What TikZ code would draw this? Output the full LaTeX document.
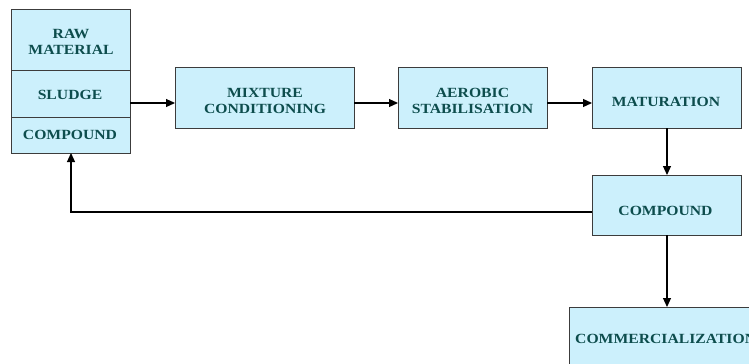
\documentclass[tikz,border=0pt]{standalone}
\usepackage{fontspec}
\setmainfont{Liberation Serif}[FakeStretch=1.12]
\usetikzlibrary{arrows.meta}
\definecolor{boxfill}{HTML}{CCF0FC}
\definecolor{boxline}{HTML}{3C3C3C}
\definecolor{txt}{HTML}{0D4D4D}
\begin{document}
\begin{tikzpicture}[x=1bp,y=-1bp,
  box/.style={draw=boxline, fill=boxfill, line width=1bp, inner sep=0pt, outer sep=0pt, anchor=north west},
  lbl/.style={font=\fontsize{14bp}{16bp}\selectfont\bfseries, text=txt, align=center, inner sep=0pt},
  arr/.style={line width=1.2bp, -{Triangle[length=9bp,width=8bp]}}]
\useasboundingbox (0,0) rectangle (749,363);
\clip (0,0) rectangle (749,363);
\node[box, minimum width=119bp, minimum height=61bp] (raw) at (11,9) {};
\node[box, minimum width=119bp, minimum height=47bp] (sludge) at (11,70) {};
\node[box, minimum width=119bp, minimum height=36bp] (cmpA) at (11,117) {};
\node[box, minimum width=179bp, minimum height=61bp] (mix) at (175,67) {};
\node[box, minimum width=149bp, minimum height=61bp] (aer) at (398,67) {};
\node[box, minimum width=149bp, minimum height=61bp] (mat) at (592,67) {};
\node[box, minimum width=149bp, minimum height=60bp] (cmpB) at (592,175) {};
\node[box, minimum width=200bp, minimum height=70bp] (com) at (569,307) {};
\node[lbl] (t1) at (71,41.5) {RAW\\MATERIAL};
\node[lbl] (t2) at (70,95) {SLUDGE};
\node[lbl] (t3) at (70,134.5) {COMPOUND};
\node[lbl] (t4) at (265,101.3) {MIXTURE\\CONDITIONING};
\node[lbl] (t5) at (472.5,101.3) {AEROBIC\\STABILISATION};
\node[lbl] (t6) at (666,102) {MATURATION};
\node[lbl] (t7) at (665.5,211) {COMPOUND};
\node[lbl, anchor=west] (t8) at (575,339) {COMMERCIALIZATION};
\coordinate (ya) at (0,103);
\coordinate (yb) at (0,212);
\coordinate (xv) at (71,0);
\coordinate (xm) at (667,0);
\coordinate (bend) at (71,212);
\draw[arr] (sludge.east |- ya) -- (mix.west |- ya);
\draw[arr] (mix.east |- ya) -- (aer.west |- ya);
\draw[arr] (aer.east |- ya) -- (mat.west |- ya);
\draw[arr] (xm |- mat.south) -- (xm |- cmpB.north);
\draw[arr] (xm |- cmpB.south) -- (xm |- com.north);
\draw[arr] (cmpB.west |- yb) -- (bend) -- (xv |- cmpA.south);
\end{tikzpicture}
\end{document}
